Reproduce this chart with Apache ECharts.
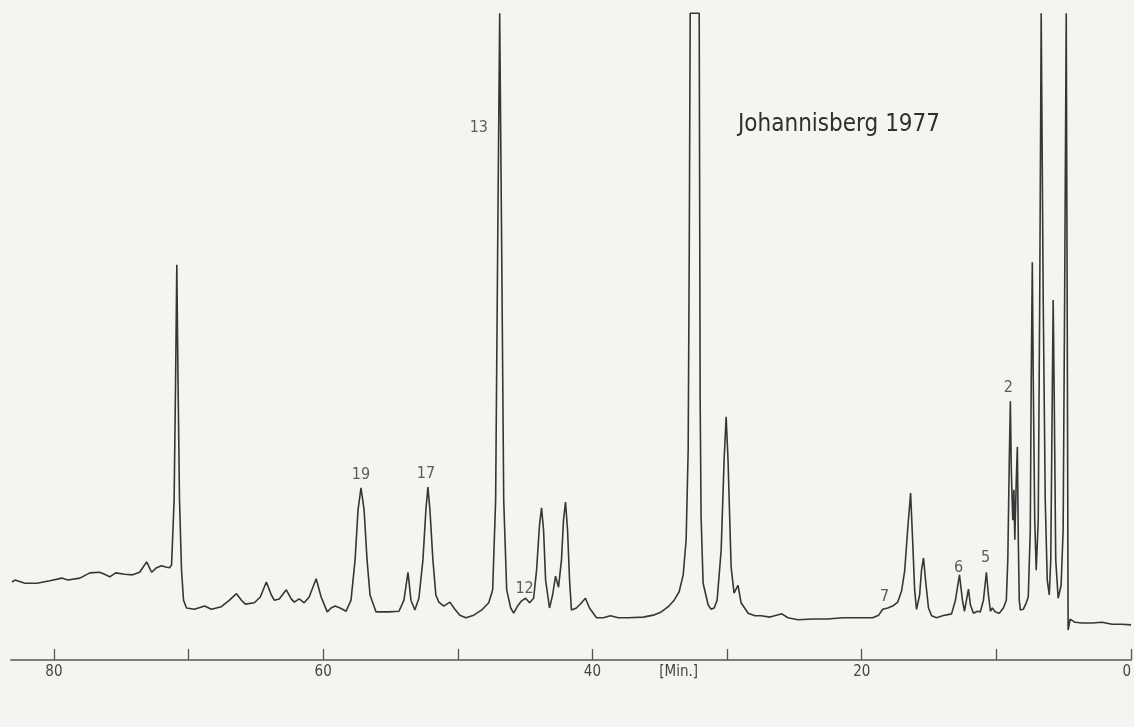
<!DOCTYPE html>
<html>
<head>
<meta charset="utf-8">
<script src="https://cdn.jsdelivr.net/npm/echarts@6/dist/echarts.min.js"></script>
<style>
html,body{margin:0;padding:0;background:#f4f4f1;}
#chart{width:1134px;height:727px;}
</style>
</head>
<body>
<div id="chart"></div>
<script>
// Retention time (min) of each trace point (right = 0 min)
const retentionTime = [
83.11,82.89,82.15,81.26,80.30,79.41,78.96,78.07,77.33,76.59,76.15,75.85,75.41,74.74,74.15,73.63,73.11,72.74,72.37,72.00,
71.70,71.41,71.26,71.07,70.96,70.87,70.78,70.67,70.52,70.37,70.15,69.56,68.81,68.30,67.56,66.96,66.44,66.07,65.78,65.11,
64.67,64.22,63.85,63.63,63.26,62.74,62.37,62.15,61.78,61.41,61.04,60.52,60.15,59.70,59.41,59.11,58.74,58.30,57.93,57.63,
57.41,57.19,56.96,56.74,56.52,56.07,55.11,54.37,54.00,53.70,53.48,53.19,52.89,52.59,52.37,52.22,52.07,51.85,51.63,51.41,
51.04,50.59,50.22,49.85,49.41,48.81,48.22,47.70,47.41,47.19,47.04,46.89,46.74,46.59,46.37,46.07,45.85,45.56,45.26,44.96,
44.67,44.37,44.15,43.93,43.78,43.63,43.48,43.19,42.96,42.74,42.52,42.30,42.15,42.00,41.85,41.70,41.56,41.19,40.81,40.52,
40.22,39.70,39.19,38.67,38.07,37.33,36.22,35.48,34.89,34.37,33.93,33.56,33.26,33.04,32.89,32.81,32.74,32.07,32.00,31.93,
31.78,31.41,31.19,30.96,30.74,30.44,30.22,30.07,29.93,29.70,29.48,29.19,28.96,28.44,27.93,27.48,26.81,25.93,25.48,24.74,
23.63,22.52,21.41,20.30,19.19,18.74,18.44,18.07,17.70,17.33,17.04,16.81,16.59,16.37,16.22,16.07,15.93,15.70,15.56,15.41,
15.26,15.04,14.81,14.44,14.00,13.33,13.04,12.74,12.52,12.37,12.22,12.07,11.93,11.70,11.41,11.19,10.96,10.74,10.59,10.44,
10.30,10.07,9.78,9.48,9.26,9.15,9.04,8.96,8.89,8.85,8.78,8.70,8.63,8.52,8.44,8.37,8.30,8.22,8.00,7.78,
7.63,7.48,7.41,7.33,7.26,7.15,7.04,6.89,6.78,6.67,6.52,6.37,6.22,6.07,5.96,5.85,5.78,5.70,5.59,5.41,
5.19,5.04,4.93,4.81,4.74,4.67,4.52,4.15,3.63,2.89,2.15,1.41,0.67,0.00
];
// Detector signal (relative units, off-scale peaks clipped at the top)
const signal = [
12.0,12.3,11.8,11.8,12.2,12.6,12.3,12.6,13.4,13.5,13.1,12.8,13.4,13.2,13.1,13.5,15.1,13.5,14.2,14.5,
14.3,14.2,14.6,24.6,43.1,60.8,43.1,24.6,13.8,9.2,8.0,7.8,8.3,7.8,8.2,9.2,10.2,9.2,8.6,8.8,
9.7,12.0,10.0,9.2,9.4,10.8,9.4,8.9,9.4,8.8,9.7,12.5,9.7,7.4,8.0,8.3,8.0,7.5,9.2,15.4,
23.1,26.5,23.1,15.4,10.0,7.4,7.4,7.5,9.2,13.5,9.2,7.7,9.5,15.4,23.1,26.6,23.1,15.4,10.0,8.9,
8.3,8.9,7.8,6.9,6.5,6.9,7.7,8.8,10.8,24.6,63.1,99.5,63.1,24.6,10.8,8.0,7.2,8.3,9.1,9.5,
8.8,9.5,13.8,20.8,23.4,20.0,12.3,8.0,10.0,12.9,11.2,15.4,21.5,24.3,20.0,12.3,7.7,8.0,8.8,9.5,
8.0,6.5,6.5,6.8,6.5,6.5,6.6,6.9,7.4,8.2,9.2,10.5,13.1,18.5,32.3,63.1,99.5,99.5,40.0,22.0,
11.8,8.5,7.8,8.0,9.2,16.9,30.8,37.4,30.8,14.3,10.3,11.5,8.8,7.2,6.8,6.8,6.6,7.1,6.5,6.2,
6.3,6.3,6.5,6.5,6.5,6.9,7.8,8.0,8.3,8.9,10.6,13.7,20.0,25.7,18.5,10.8,7.8,10.0,13.8,15.7,
12.3,8.0,6.8,6.5,6.8,7.1,9.2,13.1,9.2,7.5,9.2,10.9,8.5,7.2,7.5,7.4,9.2,13.5,10.0,7.5,
8.0,7.4,7.2,8.0,9.2,15.4,30.8,39.8,29.2,26.2,21.5,26.2,18.5,27.7,32.8,18.5,9.2,7.7,7.8,8.8,
9.7,20.0,43.1,61.2,43.1,21.5,13.8,21.5,55.4,99.5,55.4,24.6,12.3,10.0,15.4,40.0,55.4,40.0,15.4,9.5,
11.5,20.0,55.4,99.5,55.4,4.6,6.3,5.8,5.7,5.7,5.8,5.5,5.5,5.4
];
// Peak numbers written on the chromatogram
const peakNames = ['19','17','13','12','7','6','5','2'];
const peakNameTime = [57.19,52.37,48.44,45.04,18.30,12.81,10.81,9.11];
const peakNameSignal = [28.5,28.6,81.8,10.9,9.7,14.2,15.7,41.8];
// Axis ticks and labels
const tickMinutes = [0,10,20,30,40,50,60,70,80];
const labelMinutes = [0,20,40,60,80];
const unitLabelMinute = 33.6;
const unitText = '[Min.]';
const titleText = 'Johannisberg 1977';

const ink = '#363636';
const font = "'Liberation Sans Narrow','DejaVu Sans Condensed','Liberation Sans',sans-serif";

const trace = retentionTime.map((t, i) => [t, signal[i]]);
const names = peakNames.map((n, i) => ({ value: [peakNameTime[i], peakNameSignal[i]], name: n }));

const chart = echarts.init(document.getElementById('chart'), null, { renderer: 'canvas' });
chart.setOption({
  backgroundColor: '#f4f4f1',
  animation: false,
  title: {
    text: titleText,
    left: 733,
    top: 108,
    textStyle: { fontFamily: font, fontSize: 24, fontWeight: 'normal', color: '#2e2e2e' }
  },
  grid: { left: 10.8, right: 0, top: 10, bottom: 67, containLabel: false },
  xAxis: {
    type: 'value',
    inverse: true,
    min: 0,
    max: 83.2,
    axisLine: { show: true, lineStyle: { color: '#555', width: 1.5 } },
    axisTick: { show: true, inside: true, length: 11, customValues: tickMinutes, lineStyle: { color: '#555', width: 1.3 } },
    axisLabel: {
      show: true,
      margin: 5,
      customValues: labelMinutes.concat([unitLabelMinute]),
      fontFamily: font,
      fontSize: 15,
      color: '#444',
      alignMinLabel: 'right',
      formatter: v => (Math.abs(v - unitLabelMinute) < 1e-6 ? unitText : String(v))
    },
    splitLine: { show: false }
  },
  yAxis: {
    type: 'value',
    min: 0,
    max: 100,
    show: false,
    splitLine: { show: false }
  },
  series: [
    {
      type: 'line',
      data: trace,
      showSymbol: false,
      symbol: 'none',
      clip: true,
      lineStyle: { color: ink, width: 1.6 },
      z: 3
    },
    {
      type: 'scatter',
      data: names,
      symbolSize: 0,
      silent: true,
      label: {
        show: true,
        position: 'inside',
        formatter: p => p.name,
        fontFamily: font,
        fontSize: 16,
        color: '#333'
      },
      z: 4
    }
  ]
});
</script>
</body>
</html>
